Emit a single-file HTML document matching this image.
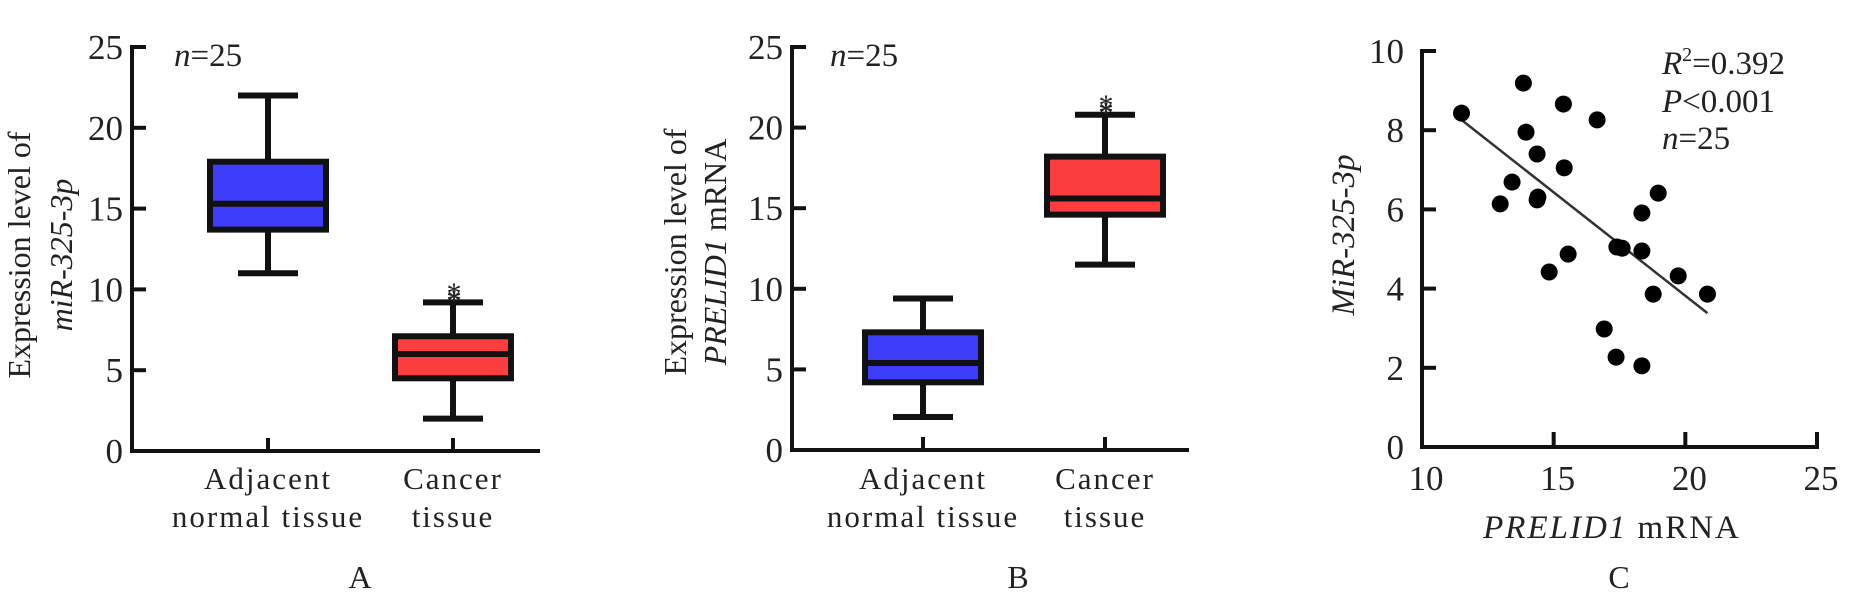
<!DOCTYPE html>
<html><head><meta charset="utf-8"><style>
html,body{margin:0;padding:0;background:#fff;}
svg{display:block;font-family:"Liberation Serif",serif;}
text{fill:#222;}
</style></head><body>
<svg id="chart" width="1860" height="607" viewBox="0 0 1860 607"></svg>
<script>
// Panel A data
const catLabelsA1 = ["Adjacent", "Cancer"];
const catLabelsA2 = ["normal tissue", "tissue"];
const boxA_min = [11.0, 2.0];
const boxA_q1 = [13.7, 4.5];
const boxA_med = [15.3, 6.0];
const boxA_q3 = [17.9, 7.1];
const boxA_max = [22.0, 9.2];
const starA = [null, 10.1];
// Panel B data
const boxB_min = [2.05, 11.5];
const boxB_q1 = [4.2, 14.6];
const boxB_med = [5.4, 15.6];
const boxB_q3 = [7.3, 18.2];
const boxB_max = [9.4, 20.8];
const starB = [null, 21.7];
const yTicksAB = [0, 5, 10, 15, 20, 25];
const boxColors = ["#3d3dfb", "#fb3d3d"];
// Panel C data
const scatterX = [11.5,13.85,15.37,16.65,13.95,14.37,15.4,13.42,14.4,14.37,12.97,18.97,18.35,17.4,17.6,18.35,15.55,14.83,19.73,18.78,20.84,16.92,17.37,18.35];
const scatterY = [8.43,9.19,8.66,8.26,7.95,7.40,7.05,6.69,6.31,6.24,6.14,6.41,5.91,5.05,5.02,4.95,4.87,4.42,4.32,3.86,3.86,2.98,2.27,2.05];
const fitX = [11.5, 20.84];
const fitY = [8.26, 3.38];
const xTicksC = [10, 15, 20, 25];
const yTicksC = [0, 2, 4, 6, 8, 10];

const NS = "http://www.w3.org/2000/svg";
const svg = document.getElementById("chart");
function mk(tag, attrs, parent, txt) {
  const e = document.createElementNS(NS, tag);
  for (const k in attrs) e.setAttribute(k, attrs[k]);
  if (txt !== undefined) e.textContent = txt;
  (parent || svg).appendChild(e);
  return e;
}

function boxPanel(p, mins, q1s, meds, q3s, maxs, stars, ylab1, ylab2html, letter) {
  const g = mk("g", {});
  
  
  const y = v => p.y0 - (v / 25) * (p.y0 - p.y25);
  const ax = mk("path", {d:`M${p.ax} ${p.y25-2} V${p.y0} H${p.axEnd}`, fill:"none", stroke:"#111", "stroke-width":4}, g);
  
  
  yTicksAB.forEach(t => {
    const tk = mk("line", {x1:p.ax, x2:p.ax+14, y1:y(t), y2:y(t), stroke:"#111", "stroke-width":4}, g);
    
    
    const tl = mk("text", {x:p.ax-9, y:y(t)+12, "text-anchor":"end", "font-size":35, fill:"#333"}, g, String(t));
    
    
  });
  p.cats.forEach((cx, i) => {
    const ct = mk("line", {x1:cx, x2:cx, y1:p.y0, y2:p.y0-13, stroke:"#111", "stroke-width":4}, g);
    
    
    const l1 = mk("text", {x:cx, y:489, "text-anchor":"middle", "font-size":31, "letter-spacing":"2"}, g, catLabelsA1[i]);
    
    
    const l2 = mk("text", {x:cx, y:527, "text-anchor":"middle", "font-size":31, "letter-spacing":"2"}, g, catLabelsA2[i]);
    
    
    const w = mk("path", {d:`M${cx} ${y(mins[i])} V${y(q1s[i])} M${cx} ${y(q3s[i])} V${y(maxs[i])} M${cx-30} ${y(mins[i])} H${cx+30} M${cx-30} ${y(maxs[i])} H${cx+30}`, stroke:"#111", "stroke-width":6, fill:"none"}, g);
    
    
    const b = mk("rect", {x:cx-58, y:y(q3s[i]), width:116, height:y(q1s[i])-y(q3s[i]), fill:boxColors[i], stroke:"#111", "stroke-width":6}, g);
    
    
    const m = mk("line", {x1:cx-58, x2:cx+58, y1:y(meds[i]), y2:y(meds[i]), stroke:"#111", "stroke-width":6}, g);
    
    
    if (stars[i] !== null) {
      const s2 = mk("text", {x:cx+1, y:y(stars[i])+22, "text-anchor":"middle", "font-size":30, fill:"#777", "font-weight":"bold"}, g, "*");
      
      
      const s = mk("text", {x:cx+1, y:y(stars[i])+15, "text-anchor":"middle", "font-size":30, fill:"#222"}, g, "*");
      
      
    }
  });
  const n = mk("text", {x:p.nx, y:66, "font-size":33}, g);
  
  
  mk("tspan", {"font-style":"italic"}, n, "n");
  mk("tspan", {}, n, "=25");
  const yl = mk("text", {transform:`translate(${p.lx1},${p.ly}) rotate(-90)`, "text-anchor":"middle", "font-size":32}, g, ylab1);
  
  
  const yl2 = mk("text", {transform:`translate(${p.lx2},${p.ly}) rotate(-90)`, "text-anchor":"middle", "font-size":32}, g);
  
  
  ylab2html.forEach(([t, it]) => mk("tspan", it ? {"font-style":"italic"} : {}, yl2, t));
  const L = mk("text", {x:p.letterX, y:588, "text-anchor":"middle", "font-size":32}, g, letter);
  
  
}

boxPanel({name:"panel-a", ax:132, axEnd:540, y0:451, y25:47, cats:[268,453], nx:174, lx1:30, lx2:72, ly:255, letterX:360},
  boxA_min, boxA_q1, boxA_med, boxA_q3, boxA_max, starA, "Expression level of", [["miR-325-3p", true]], "A");
boxPanel({name:"panel-b", ax:792, axEnd:1189, y0:450, y25:47, cats:[923,1105], nx:830, lx1:686, lx2:726, ly:252, letterX:1018},
  boxB_min, boxB_q1, boxB_med, boxB_q3, boxB_max, starB, "Expression level of", [["PRELID1", true], [" mRNA", false]], "B");

// Panel C
(function(){
  const g = mk("g", {});
  
  
  const X = v => 1422 + (v - 10) * (1817 - 1422) / 15;
  const Y = v => 447 - v * (447 - 51) / 10;
  const ax = mk("path", {d:`M${X(10)} ${Y(10)-2} V${Y(0)} H${X(25)+2}`, fill:"none", stroke:"#111", "stroke-width":4}, g);
  
  
  yTicksC.forEach(t => {
    const tk = mk("line", {x1:X(10), x2:X(10)+14, y1:Y(t), y2:Y(t), stroke:"#111", "stroke-width":4}, g);
    
    
    const tl = mk("text", {x:X(10)-18, y:Y(t)+12, "text-anchor":"end", "font-size":35, fill:"#333"}, g, String(t));
    
    
  });
  xTicksC.forEach(t => {
    const tk = mk("line", {x1:X(t), x2:X(t), y1:Y(0), y2:Y(0)-15, stroke:"#111", "stroke-width":4}, g);
    
    
    const tl = mk("text", {x:X(t)+4, y:490, "text-anchor":"middle", "font-size":35, fill:"#333"}, g, String(t));
    
    
  });
  const fit = mk("line", {x1:X(fitX[0]), y1:Y(fitY[0]), x2:X(fitX[1]), y2:Y(fitY[1]), stroke:"#333", "stroke-width":2.5}, g);
  
  
  scatterX.forEach((v, i) => {
    const c = mk("circle", {cx:X(v), cy:Y(scatterY[i]), r:8.5, fill:"#000"}, g);
    
    
  });
  const st = mk("g", {"font-size":33}, g);
  
  
  const r = mk("text", {x:1662, y:74}, st);
  mk("tspan", {"font-style":"italic"}, r, "R");
  mk("tspan", {"font-size":20, dy:-13}, r, "2");
  mk("tspan", {dy:13}, r, "=0.392");
  const pp = mk("text", {x:1662, y:112}, st);
  mk("tspan", {"font-style":"italic"}, pp, "P");
  mk("tspan", {}, pp, "<0.001");
  const nn = mk("text", {x:1662, y:149}, st);
  mk("tspan", {"font-style":"italic"}, nn, "n");
  mk("tspan", {}, nn, "=25");
  const yl = mk("text", {transform:"translate(1354,235) rotate(-90)", "text-anchor":"middle", "font-size":33, "font-style":"italic"}, g, "MiR-325-3p");
  
  
  const xl = mk("text", {x:1612, y:538, "text-anchor":"middle", "font-size":33, "letter-spacing":"2"}, g);
  
  
  mk("tspan", {"font-style":"italic"}, xl, "PRELID1");
  mk("tspan", {}, xl, " mRNA");
  const L = mk("text", {x:1619, y:588, "text-anchor":"middle", "font-size":32}, g, "C");
  
  
})();
</script>
</body></html>
